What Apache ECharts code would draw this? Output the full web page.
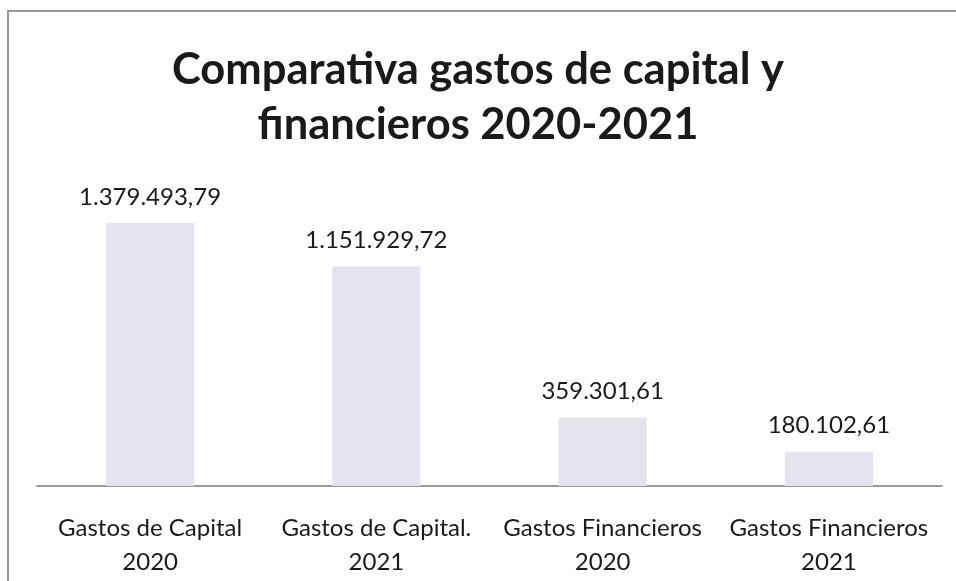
<!DOCTYPE html>
<html>
<head>
<meta charset="utf-8">
<script src="https://cdn.jsdelivr.net/npm/echarts@6/dist/echarts.min.js"></script>
<style>
  html, body { margin: 0; padding: 0; background: #ffffff; }
  #chart { width: 956px; height: 581px; }
</style>
</head>
<body>
<div id="chart"></div>
<script>
// Categories and amounts (euros) for capital and financial expenses
const categories = [
  'Gastos de Capital\n2020',
  'Gastos de Capital.\n2021',
  'Gastos Financieros\n2020',
  'Gastos Financieros\n2021'
];
const amounts = [1379493.79, 1151929.72, 359301.61, 180102.61];
const titleText = 'Comparativa gastos de capital y\nfinancieros 2020-2021';

// Spanish number format: dot thousands separator, comma decimals
function formatEs(v) {
  const parts = v.toFixed(2).split('.');
  const intPart = parts[0].replace(/\B(?=(\d{3})+(?!\d))/g, '.');
  return intPart + ',' + parts[1];
}

const chart = echarts.init(document.getElementById('chart'), null, { renderer: 'canvas' });

chart.setOption({
  backgroundColor: '#ffffff',
  animation: false,
  title: {
    text: titleText,
    left: 'center',
    top: 37,
    textStyle: {
      fontFamily: 'Lato',
      fontWeight: 'bold',
      fontSize: 43.5,
      lineHeight: 55,
      color: '#1a1a1a'
    }
  },
  graphic: [{
    type: 'rect',
    shape: { x: 8, y: 11, width: 1000, height: 700 },
    style: { fill: 'none', stroke: '#9a9a9a', lineWidth: 2 },
    silent: true,
    z: -1
  }],
  grid: { left: 37, right: 14, top: 181, bottom: 95 },
  xAxis: {
    type: 'category',
    data: categories,
    axisLine: { lineStyle: { color: '#7a7a7a', width: 1.5 } },
    axisTick: { show: false },
    axisLabel: {
      margin: 25,
      fontFamily: 'Lato',
      fontSize: 24,
      lineHeight: 34,
      color: '#1a1a1a',
      interval: 0
    }
  },
  yAxis: {
    type: 'value',
    min: 0,
    max: 1600000,
    show: false,
    splitLine: { show: false }
  },
  series: [{
    type: 'bar',
    data: amounts,
    barWidth: '39%',
    itemStyle: { color: '#e5e4ee' },
    label: {
      show: true,
      position: 'top',
      distance: 14,
      fontFamily: 'Lato',
      fontSize: 24,
      color: '#1a1a1a',
      formatter: p => formatEs(p.value)
    }
  }]
});
</script>
</body>
</html>
